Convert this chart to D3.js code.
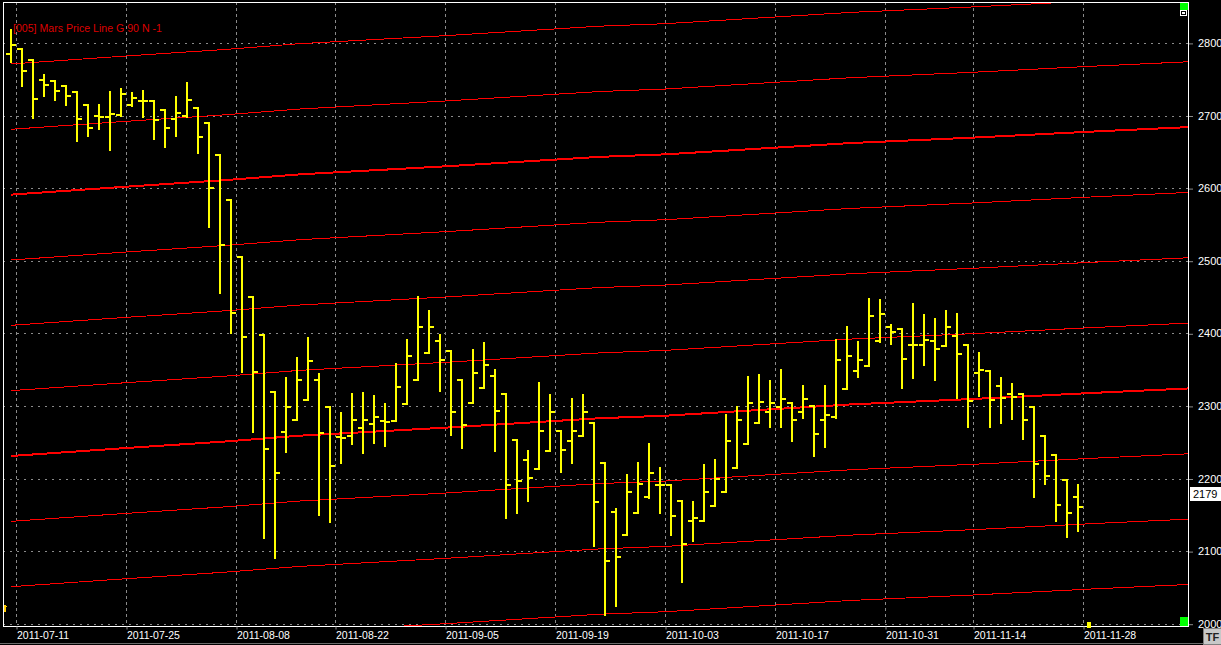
<!DOCTYPE html>
<html><head><meta charset="utf-8">
<script src="https://cdn.jsdelivr.net/npm/d3@7"></script>
<style>html,body{margin:0;padding:0;background:#000;overflow:hidden}svg{display:block}</style>
</head><body>
<svg id="c" width="1221" height="645"></svg>
<script>
// ---- data ----
const opens  = [2785,2791,2777,2749,2747,2740,2733,2715,2699,2698,2701,2714,2720,2720,2707,2695,2700,2711,2690,2646,
                2584,2505,2450,2398,2319,2264,2281,2308,2335,2299,2257,2258,2269,2275,2279,2279,2303,2336,2373,2390,
                2376,2335,2304,2325,2341,2316,2253,2226,2213,2238,2265,2252,2258,2276,2222,2154,2122,2153,2174,2191,
                2191,2169,2141,2142,2162,2182,2215,2248,2276,2291,2298,2304,2292,2300,2281,2285,2323,2348,2355,2389,
                2408,2406,2384,2384,2389,2383,2396,2384,2346,2348,2327,2317,2316,2298,2259,2232,2198,2175];
const highs  = [2818,2791,2777,2756,2748,2740,2733,2715,2714,2732,2737,2731,2734,2720,2707,2725,2745,2711,2690,2646,
                2584,2505,2450,2398,2319,2339,2366,2394,2344,2299,2290,2316,2318,2314,2303,2358,2391,2450,2431,2397,
                2376,2335,2377,2387,2349,2316,2253,2238,2331,2315,2265,2310,2315,2276,2222,2158,2205,2222,2248,2214,
                2191,2169,2168,2219,2226,2288,2298,2340,2343,2334,2349,2304,2327,2300,2328,2391,2408,2388,2447,2446,
                2411,2406,2440,2425,2420,2431,2427,2384,2373,2348,2339,2330,2316,2298,2259,2232,2198,2191];
const lows   = [2774,2741,2696,2727,2721,2714,2665,2672,2682,2653,2700,2713,2698,2668,2656,2672,2698,2648,2547,2456,
                2400,2347,2264,2118,2091,2237,2281,2308,2150,2140,2222,2247,2235,2249,2245,2279,2303,2336,2373,2320,
                2260,2242,2304,2324,2238,2146,2153,2169,2213,2238,2209,2221,2258,2107,2012,2024,2122,2152,2173,2153,
                2122,2058,2114,2142,2162,2182,2215,2248,2276,2271,2271,2252,2283,2231,2243,2284,2323,2340,2355,2388,
                2385,2324,2339,2357,2335,2383,2311,2271,2314,2271,2277,2282,2254,2175,2192,2142,2120,2127];
const closes = [2797,2761,2723,2742,2734,2727,2695,2683,2698,2702,2730,2724,2720,2694,2683,2704,2721,2671,2600,2521,
                2428,2395,2347,2241,2208,2299,2335,2362,2263,2217,2256,2281,2281,2285,2278,2326,2369,2409,2408,2363,
                2292,2274,2346,2356,2293,2191,2197,2201,2265,2291,2239,2265,2292,2168,2086,2092,2182,2193,2208,2191,
                2148,2110,2145,2182,2200,2252,2280,2304,2306,2304,2310,2281,2309,2261,2288,2363,2369,2363,2424,2427,
                2402,2365,2384,2391,2378,2409,2372,2307,2349,2308,2311,2312,2280,2220,2204,2164,2153,2161];

// Mars price line family: base line anchors (bar index, price) and offsets (G 90)
const lineIdx    = [0, 10.5, 19.5, 26.3, 39.5, 53.5, 59.5, 76.3, 87.4, 98.5, 107];
const lineBase   = [2231, 2242, 2251, 2259, 2270, 2283, 2286.5, 2302, 2309.5, 2318, 2324];
const lineOffsets = [-270, -180, -90, 0, 90, 180, 270, 360, 450, 540];
const thickOffsets = [0, 360];

// axis ticks
const yTicks = [2000, 2100, 2200, 2300, 2400, 2500, 2600, 2700, 2800];
const xTickIdx = [1, 11, 21, 30, 40, 50, 60, 70, 80, 88, 98];
const xTickLabels = ["2011-07-11","2011-07-25","2011-08-08","2011-08-22","2011-09-05","2011-09-19",
                     "2011-10-03","2011-10-17","2011-10-31","2011-11-14","2011-11-28"];
const title = "[005] Mars Price Line G 90 N -1";
const lastPrice = 2179;

// ---- layout ----
const L = 3, R = 1188, T = 2, B = 626;
const svg = d3.select("#c");
const FONT = "'Liberation Sans', Arial, sans-serif";
svg.append("rect").attr("width",1221).attr("height",645).attr("fill","#000");

const x = d3.scaleLinear().domain([0, 107]).range([11, 1188]);
const y = d3.scaleLinear().domain([2000, 2800]).range([623.7, 42.9]);

svg.append("defs").append("clipPath").attr("id","plot")
  .append("rect").attr("x",L).attr("y",T).attr("width",R-L).attr("height",B-T);

const plot = svg.append("g").attr("clip-path","url(#plot)");

// grid
plot.append("g").selectAll("line").data(yTicks).join("line")
  .attr("x1",L).attr("x2",R)
  .attr("y1",d=>Math.round(y(d))+0.5).attr("y2",d=>Math.round(y(d))+0.5)
  .attr("stroke","#8a8a8a").attr("stroke-width",1).attr("stroke-dasharray","2,5");
plot.append("g").selectAll("line").data(xTickIdx).join("line")
  .attr("x1",d=>Math.floor(x(d-0.5))+0.5).attr("x2",d=>Math.floor(x(d-0.5))+0.5)
  .attr("y1",T).attr("y2",B)
  .attr("stroke","#8a8a8a").attr("stroke-width",1).attr("stroke-dasharray","3,3");

// red lines
const lineGen = d3.line().x(d=>x(d[0])).y(d=>y(d[1]));
plot.append("g").selectAll("path").data(lineOffsets).join("path")
  .attr("d", off => lineGen(lineIdx.map((d,j)=>[d, lineBase[j]+off])))
  .attr("fill","none").attr("stroke","#ff0000")
  .attr("stroke-width", off => thickOffsets.includes(off) ? 2 : 1)
  .attr("shape-rendering","crispEdges");

// OHLC bars
const bars = plot.append("g").attr("fill","#ffff00");
opens.forEach((o,i)=>{
  const cx = Math.round(x(i));
  const yh = Math.round(y(highs[i])), yl = Math.round(y(lows[i]));
  bars.append("rect").attr("x",cx-1).attr("y",yh-1).attr("width",2).attr("height",Math.max(2,yl-yh+2));
  bars.append("rect").attr("x",cx-5).attr("y",Math.round(y(o))-1).attr("width",4).attr("height",2);
  bars.append("rect").attr("x",cx+1).attr("y",Math.round(y(closes[i]))-1).attr("width",4).attr("height",2);
});

// title
svg.append("text").attr("x",13).attr("y",32).text(title)
  .attr("fill","#dd0000").attr("font-family",FONT).attr("font-size","10.6px");

// small left marker
svg.append("rect").attr("x",4).attr("y",605).attr("width",2).attr("height",7).attr("fill","#ffcc00");
svg.append("rect").attr("x",4).attr("y",606).attr("width",3).attr("height",1).attr("fill","#ffcc00");

// frame
svg.append("rect").attr("x",L+0.5).attr("y",T+0.5).attr("width",R-L).attr("height",B-T)
  .attr("fill","none").attr("stroke","#ffffff").attr("stroke-width",1);

// right axis
const ay = svg.append("g").attr("transform",`translate(${R+1},0)`)
  .call(d3.axisRight(y).tickValues(yTicks).tickSize(4).tickPadding(5).tickFormat(d3.format("d")));
ay.select(".domain").remove();
ay.selectAll(".tick line").attr("stroke","#8a8a8a").attr("transform","translate(0,0.5)");
ay.selectAll(".tick text").attr("fill","#ffffff").attr("font-family",FONT).attr("font-size","11px");

// bottom axis
const ax = svg.append("g").attr("transform",`translate(0,${B+0.5})`)
  .call(d3.axisBottom(x).tickValues(xTickIdx.map(d=>d-0.5)).tickSize(3).tickPadding(2)
        .tickFormat((d,j)=>xTickLabels[j]));
ax.select(".domain").remove();
ax.selectAll(".tick line").attr("stroke","#8a8a8a");
ax.selectAll(".tick text").attr("fill","#ffffff").attr("font-family",FONT).attr("font-size","10.5px")
  .attr("text-anchor","start").attr("y",5);

// bottom grey line
svg.append("line").attr("x1",0).attr("x2",1203).attr("y1",643.5).attr("y2",643.5).attr("stroke","#6a6a6a");

// green markers
svg.append("rect").attr("x",1180).attr("y",3).attr("width",8).attr("height",7).attr("fill","#00ff00");
svg.append("rect").attr("x",1180.5).attr("y",10.5).attr("width",6).attr("height",5).attr("fill","#000").attr("stroke","#fff");
svg.append("rect").attr("x",1182).attr("y",12).attr("width",3).attr("height",2).attr("fill","#fff");
svg.append("rect").attr("x",1180).attr("y",617).attr("width",8).attr("height",9).attr("fill","#00ff00");
// current bar marker
svg.append("rect").attr("x",Math.round(x(98))-2).attr("y",622).attr("width",4).attr("height",6).attr("fill","#ffff00");

// last price box
const yp = Math.round(y(lastPrice));
svg.append("rect").attr("x",1190).attr("y",yp-7).attr("width",31).attr("height",14).attr("fill","#ffffff");
svg.append("text").attr("x",1193).attr("y",yp).attr("dy","0.35em").text(lastPrice)
  .attr("fill","#000").attr("font-family",FONT).attr("font-size","11px");

// TF button
svg.append("rect").attr("x",1203.5).attr("y",628.5).attr("width",18).attr("height",16)
  .attr("fill","#c8c8c8").attr("stroke","#808080");
svg.append("text").attr("x",1212.5).attr("y",637).attr("dy","0.35em").attr("text-anchor","middle").text("TF")
  .attr("fill","#222").attr("font-family",FONT).attr("font-size","11px").attr("font-weight","bold");
</script>
</body></html>
